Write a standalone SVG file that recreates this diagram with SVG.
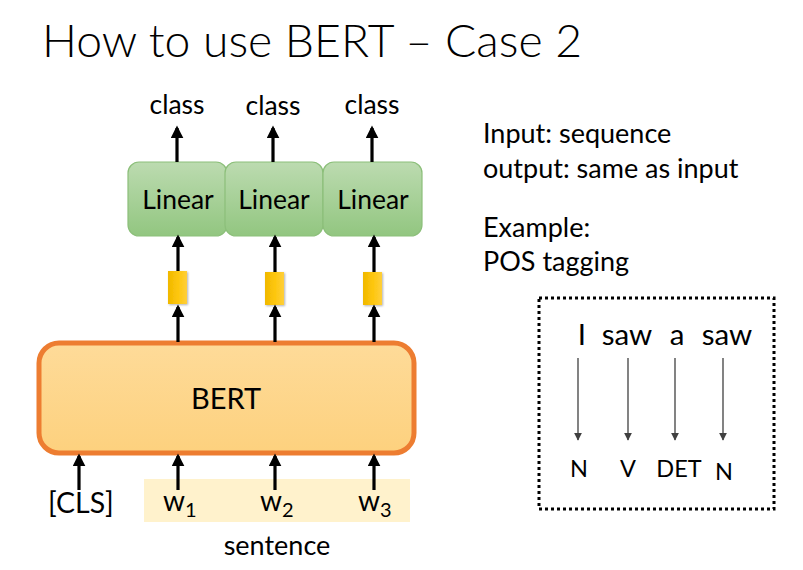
<svg xmlns="http://www.w3.org/2000/svg" width="803" height="570" viewBox="0 0 803 570">
<style>
text{font-family:Lato,"Open Sans","Liberation Sans",sans-serif;fill:#000}
.t22{font-size:26.5px}
.rt{font-size:27px}
.mid{text-anchor:middle}
.thick{stroke:#000;stroke-width:3.2;fill:none;marker-end:url(#ah)}
.thin{stroke:#404040;stroke-width:1.3;fill:none;marker-end:url(#ahs)}
.lin{fill:url(#gGreen);stroke:#8cbf7a;stroke-width:1.2}
.yel{fill:url(#gYel);filter:url(#sh)}
</style>
<defs>
<marker id="ah" markerWidth="13" markerHeight="13" viewBox="0 0 10 10" refX="8" refY="5" orient="auto" markerUnits="userSpaceOnUse">
<path d="M0,0 L10,5 L0,10 z" fill="#000"/>
</marker>
<marker id="ahs" markerWidth="8" markerHeight="8" viewBox="0 0 10 10" refX="9" refY="5" orient="auto" markerUnits="userSpaceOnUse">
<path d="M0,0 L10,5 L0,10 z" fill="#404040"/>
</marker>
<linearGradient id="gGreen" x1="0" y1="0" x2="0" y2="1">
<stop offset="0" stop-color="#bcdbb0"/>
<stop offset="1" stop-color="#92c680"/>
</linearGradient>
<linearGradient id="gYel" x1="0" y1="0" x2="1" y2="0">
<stop offset="0" stop-color="#f0b800"/>
<stop offset="0.5" stop-color="#fdc60c"/>
<stop offset="1" stop-color="#ffcf3a"/>
</linearGradient>
<linearGradient id="gBert" x1="0" y1="0" x2="0" y2="1">
<stop offset="0" stop-color="#fedb99"/>
<stop offset="1" stop-color="#fdd17e"/>
</linearGradient>
<filter id="sh" x="-30%" y="-20%" width="160%" height="140%">
<feDropShadow dx="1" dy="1" stdDeviation="1" flood-color="#000" flood-opacity="0.3"/>
</filter>
</defs>

<text id="title" x="42" y="57" font-size="46" font-weight="300" textLength="540" lengthAdjust="spacingAndGlyphs">How to use BERT – Case 2</text>

<g id="sentence-bg"><rect x="144" y="479" width="266" height="43" fill="#fff2cc"/></g>

<g id="bert">
<rect x="39" y="343" width="375" height="110" rx="20" ry="20" fill="url(#gBert)" stroke="#ed7d31" stroke-width="5"/>
<text class="mid" x="226" y="409" font-size="29">BERT</text>
</g>

<g id="linear1"><rect class="lin" x="128" y="162" width="99" height="74" rx="11"/><text class="mid t22" x="178" y="209">Linear</text></g>
<g id="linear2"><rect class="lin" x="225" y="162" width="98" height="74" rx="11"/><text class="mid t22" x="274" y="209">Linear</text></g>
<g id="linear3"><rect class="lin" x="323" y="162" width="99" height="74" rx="11"/><text class="mid t22" x="373" y="209">Linear</text></g>

<g id="vec1"><rect class="yel" x="168" y="271" width="19" height="33"/></g>
<g id="vec2"><rect class="yel" x="265" y="272" width="19" height="33"/></g>
<g id="vec3"><rect class="yel" x="363" y="272" width="19" height="33"/></g>

<g id="connectors">
<line class="thick" x1="177" y1="162" x2="177" y2="128"/>
<line class="thick" x1="273" y1="162" x2="273" y2="128"/>
<line class="thick" x1="372" y1="162" x2="372" y2="128"/>
<line class="thick" x1="178" y1="271" x2="178" y2="237"/>
<line class="thick" x1="275" y1="272" x2="275" y2="237"/>
<line class="thick" x1="374" y1="272" x2="374" y2="237"/>
<line class="thick" x1="178" y1="342" x2="178" y2="307"/>
<line class="thick" x1="275" y1="342" x2="275" y2="307"/>
<line class="thick" x1="374" y1="342" x2="374" y2="307"/>
<line class="thick" x1="79" y1="490" x2="79" y2="456"/>
<line class="thick" x1="178" y1="490" x2="178" y2="456"/>
<line class="thick" x1="275" y1="490" x2="275" y2="456"/>
<line class="thick" x1="374" y1="490" x2="374" y2="456"/>
<line class="thin" x1="578" y1="358" x2="578" y2="440"/>
<line class="thin" x1="628" y1="358" x2="628" y2="440"/>
<line class="thin" x1="675" y1="358" x2="675" y2="440"/>
<line class="thin" x1="723" y1="358" x2="723" y2="440"/>
</g>

<g id="labels-class">
<text class="mid t22" x="177" y="114">class</text>
<text class="mid t22" x="273" y="115">class</text>
<text class="mid t22" x="372" y="114">class</text>
</g>

<g id="inputs">
<text x="48" y="513" font-size="28.5">[CLS]</text>
<text x="163" y="511" font-size="28">w<tspan font-size="20" dy="6">1</tspan></text>
<text x="260" y="511" font-size="28">w<tspan font-size="20" dy="6">2</tspan></text>
<text x="358" y="511" font-size="28">w<tspan font-size="20" dy="6">3</tspan></text>
<text class="mid" x="277" y="555" font-size="27">sentence</text>
</g>

<g id="desc">
<text class="rt" x="483" y="143">Input: sequence</text>
<text class="rt" x="483" y="178">output: same as input</text>
<text class="rt" x="483" y="237">Example:</text>
<text class="rt" x="483" y="271">POS tagging</text>
</g>

<g id="example">
<rect x="539" y="298" width="235" height="211" fill="none" stroke="#000" stroke-width="3" stroke-dasharray="3 3"/>
<text class="mid" x="582" y="345" font-size="29.5">I</text>
<text class="mid" x="627" y="345" font-size="29.5">saw</text>
<text class="mid" x="677" y="345" font-size="29.5">a</text>
<text class="mid" x="727" y="345" font-size="29.5">saw</text>
<text class="mid" x="579" y="477" font-size="23.5">N</text>
<text class="mid" x="628" y="477" font-size="23.5">V</text>
<text class="mid" x="679" y="477" font-size="23.5">DET</text>
<text class="mid" x="724" y="480" font-size="23.5">N</text>
</g>
</svg>
